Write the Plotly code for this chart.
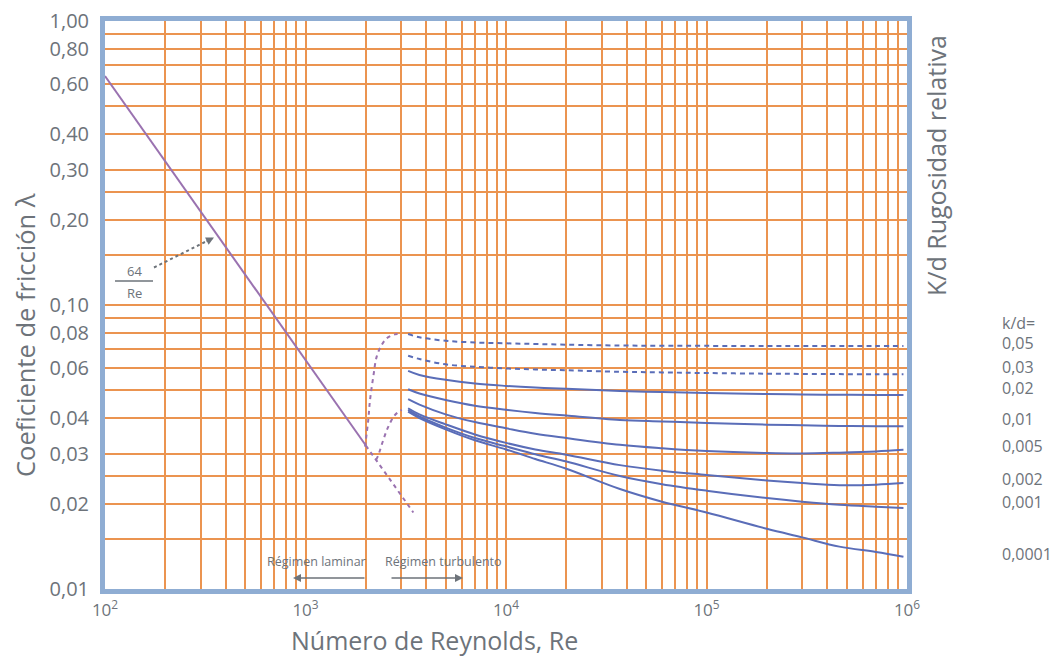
import plotly.graph_objects as go

# ---------------- data ----------------
re_laminar = [100, 2000]
lam_laminar = [0.64, 0.032]

re_laminar_ext = [2000, 3450]
lam_laminar_ext = [0.032, 0.0186]

re_trans_upper = [1981, 2056, 2098, 2178, 2265, 2399, 2541, 2795, 2950]
lam_trans_upper = [0.0317, 0.0394, 0.0463, 0.0559, 0.0658, 0.0723, 0.0763, 0.0788, 0.0790]

re_trans_lower = [2250, 2307, 2444, 2589, 2795, 3020]
lam_trans_lower = [0.0285, 0.0296, 0.0335, 0.0373, 0.0410, 0.0427]

re_turb = [3250, 3700, 5000, 7000, 10000, 14000, 20000, 37000, 60000,
           100000, 200000, 300000, 460000, 700000, 960000]

lam_kd_005 = [0.0790, 0.0770, 0.0748, 0.0738, 0.0733, 0.0729, 0.0725, 0.0720, 0.0719,
              0.0718, 0.0717, 0.0717, 0.0717, 0.0717, 0.0717]
lam_kd_003 = [0.0663, 0.0645, 0.0618, 0.0606, 0.0598, 0.0593, 0.0589, 0.0582, 0.0579,
              0.0576, 0.0573, 0.0572, 0.0571, 0.0570, 0.0570]
lam_kd_002 = [0.0586, 0.0567, 0.0545, 0.0529, 0.0519, 0.0512, 0.0507, 0.0498, 0.0494,
              0.0490, 0.0486, 0.0484, 0.0483, 0.0482, 0.0482]
lam_kd_001 = [0.0505, 0.0488, 0.0463, 0.0442, 0.0428, 0.0417, 0.0408, 0.0394, 0.0389,
              0.0384, 0.0379, 0.0377, 0.0375, 0.0374, 0.0374]
lam_kd_0005 = [0.0466, 0.0446, 0.0412, 0.0387, 0.0368, 0.0352, 0.0340, 0.0322, 0.0313,
               0.0306, 0.0301, 0.0300, 0.0302, 0.0305, 0.0309]
lam_kd_0002 = [0.0433, 0.0412, 0.0380, 0.0350, 0.0327, 0.0310, 0.0297, 0.0273, 0.0261,
               0.0252, 0.0241, 0.0236, 0.0232, 0.0233, 0.0236]
lam_kd_0001 = [0.0427, 0.0405, 0.0370, 0.0340, 0.0318, 0.0298, 0.0281, 0.0250, 0.0234,
               0.0222, 0.0209, 0.0203, 0.0198, 0.0195, 0.0193]
lam_kd_00001 = [0.0421, 0.0400, 0.0365, 0.0334, 0.0310, 0.0287, 0.0265, 0.0225, 0.0203,
                0.0186, 0.0163, 0.0152, 0.0141, 0.0135, 0.0130]

dashed_series = [lam_kd_005, lam_kd_003]
solid_series = [lam_kd_002, lam_kd_001, lam_kd_0005, lam_kd_0002, lam_kd_0001, lam_kd_00001]

kd_labels = ["k/d=", "0,05", "0,03", "0,02", "0,01", "0,005", "0,002", "0,001", "0,0001"]
kd_label_py = [323, 343, 367, 388, 419, 446, 479, 502, 554]

x_grid = [100, 200, 300, 400, 500, 600, 700, 800, 900,
          1000, 2000, 3000, 4000, 5000, 6000, 7000, 8000, 9000,
          10000, 20000, 30000, 40000, 50000, 60000, 70000, 80000, 90000,
          100000, 200000, 300000, 400000, 500000, 600000, 700000, 800000, 900000,
          1000000]
x_labels = {100: "10<sup>2</sup>", 1000: "10<sup>3</sup>", 10000: "10<sup>4</sup>",
            100000: "10<sup>5</sup>", 1000000: "10<sup>6</sup>"}

y_grid = [0.01, 0.015, 0.02, 0.025, 0.03, 0.04, 0.05, 0.06, 0.07, 0.08, 0.09,
          0.1, 0.15, 0.2, 0.25, 0.3, 0.4, 0.5, 0.6, 0.7, 0.8, 0.9, 1.0]
y_labels = {0.01: "0,01", 0.02: "0,02", 0.03: "0,03", 0.04: "0,04", 0.06: "0,06",
            0.08: "0,08", 0.1: "0,10", 0.2: "0,20", 0.3: "0,30", 0.4: "0,40",
            0.6: "0,60", 0.8: "0,80", 1.0: "1,00"}

# ---------------- style ----------------
FONT = "Open Sans"
GRAY = "#6d737a"
ORANGE = "#eb9450"
BORDER = "#8fadd3"
PURPLE = "#9a72b0"
BLUE = "#5a6db8"

W, H = 1054, 657
L, R, T, B = 105, 907, 21, 589


def fx(px):
    return (px - L) / (R - L)


def fy(py):
    return (B - py) / (B - T)


fig = go.Figure()

fig.add_trace(go.Scatter(x=re_laminar, y=lam_laminar, mode="lines",
                         line=dict(color=PURPLE, width=2), hoverinfo="skip"))
fig.add_trace(go.Scatter(x=re_laminar_ext, y=lam_laminar_ext, mode="lines",
                         line=dict(color=PURPLE, width=2, dash="4px,4px"), hoverinfo="skip"))
fig.add_trace(go.Scatter(x=re_trans_upper, y=lam_trans_upper, mode="lines",
                         line=dict(color=PURPLE, width=2, dash="4px,4px", shape="spline"),
                         hoverinfo="skip"))
fig.add_trace(go.Scatter(x=re_trans_lower, y=lam_trans_lower, mode="lines",
                         line=dict(color=PURPLE, width=2, dash="4px,4px", shape="spline"),
                         hoverinfo="skip"))

for s in dashed_series:
    fig.add_trace(go.Scatter(x=re_turb, y=s, mode="lines",
                             line=dict(color=BLUE, width=2, dash="5px,4px", shape="spline"),
                             hoverinfo="skip"))
for s in solid_series:
    fig.add_trace(go.Scatter(x=re_turb, y=s, mode="lines",
                             line=dict(color=BLUE, width=2, shape="spline"),
                             hoverinfo="skip"))


def text_ann(text, px, py, size, angle=0, xanchor="center"):
    return dict(text=text, xref="paper", yref="paper", x=fx(px), y=fy(py),
                xanchor=xanchor, yanchor="middle", textangle=angle, showarrow=False,
                font=dict(family=FONT, size=size, color=GRAY))


annotations = []
# axis titles
annotations.append(text_ann("Coeficiente de fricción λ", 25, 335, 25.5, angle=-90))
annotations.append(text_ann("K/d Rugosidad relativa", 936, 166, 25, angle=-90))
annotations.append(text_ann("Número de Reynolds, Re", 434, 640, 25))
# k/d labels
for t, py in zip(kd_labels, kd_label_py):
    annotations.append(text_ann(t, 1000, py, 16, xanchor="left"))
# 64/Re
annotations.append(text_ann("64", 134, 271, 13))
annotations.append(text_ann("Re", 134, 293, 13))
annotations.append(dict(text="", xref="paper", yref="paper", x=fx(214), y=fy(237.5),
                        ax=-9, ay=4.5, showarrow=True, arrowhead=2, arrowsize=1,
                        arrowwidth=1.6, arrowcolor=GRAY))
# regimes
annotations.append(text_ann("Régimen laminar", 316, 561, 12.5))
annotations.append(text_ann("Régimen turbulento", 443, 561, 12.5))
annotations.append(dict(text="", xref="paper", yref="paper", x=fx(293), y=fy(578),
                        ax=73, ay=0, showarrow=True, arrowhead=2, arrowsize=1,
                        arrowwidth=1.6, arrowcolor=GRAY))
annotations.append(dict(text="", xref="paper", yref="paper", x=fx(463), y=fy(578),
                        ax=-73, ay=0, showarrow=True, arrowhead=2, arrowsize=1,
                        arrowwidth=1.6, arrowcolor=GRAY))

shapes = [
    dict(type="line", xref="paper", yref="paper", x0=fx(115), x1=fx(153),
         y0=fy(281), y1=fy(281), line=dict(color=GRAY, width=1.5)),
    dict(type="line", xref="paper", yref="paper", x0=fx(154), x1=fx(208),
         y0=fy(267.5), y1=fy(240.5), line=dict(color=GRAY, width=2, dash="dot")),
]

fig.update_layout(
    width=W, height=H,
    margin=dict(l=L, r=W - R, t=T, b=H - B, autoexpand=False),
    paper_bgcolor="white", plot_bgcolor="white",
    showlegend=False,
    annotations=annotations,
    shapes=shapes,
    font=dict(family=FONT, color=GRAY),
    xaxis=dict(type="log", range=[2, 6],
               tickvals=x_grid, ticktext=[x_labels.get(v, "") for v in x_grid],
               showgrid=True, gridcolor=ORANGE, gridwidth=1.5,
               showline=True, linecolor=BORDER, linewidth=5, mirror=True,
               ticks="", ticklabelstandoff=2,
               tickfont=dict(family=FONT, size=17, color=GRAY), zeroline=False),
    yaxis=dict(type="log", range=[-2, 0],
               tickvals=y_grid, ticktext=[y_labels.get(v, "") for v in y_grid],
               showgrid=True, gridcolor=ORANGE, gridwidth=1.5,
               showline=True, linecolor=BORDER, linewidth=5, mirror=True,
               ticks="", ticklabelstandoff=7,
               tickfont=dict(family=FONT, size=20, color=GRAY), zeroline=False),
)

fig.write_html("out.html", config={"displayModeBar": False},
               post_script="document.body.style.margin='0px';document.body.style.padding='0px';")
